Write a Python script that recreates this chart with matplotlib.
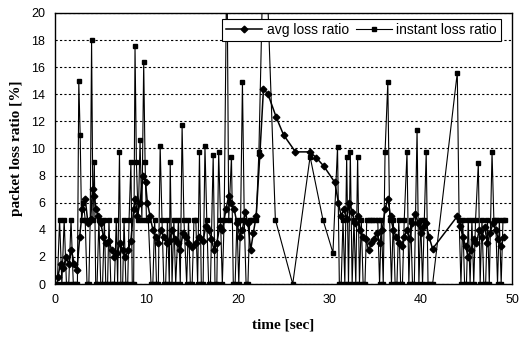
import numpy as np
import matplotlib
matplotlib.use("Agg")
import matplotlib.pyplot as plt

# instant loss ratio samples (time [s], value [%])
t_inst = [0.0, 0.25, 0.5, 0.75, 1.0, 1.25, 1.5, 1.75, 2.0, 2.2, 2.45, 2.6, 2.75, 2.9, 3.1, 3.3,
          3.5, 3.7, 3.85, 4.0, 4.15, 4.3, 4.45, 4.6, 4.8, 5.0, 5.2, 5.4, 5.55, 5.75, 5.9, 6.1,
          6.3, 6.5, 6.7, 6.85, 7.05, 7.2, 7.4, 7.55, 7.75, 7.95, 8.1, 8.3, 8.45, 8.6, 8.75, 8.9,
          9.1, 9.3, 9.5, 9.7, 9.85, 10.0, 10.2,
          10.5, 10.7, 10.9, 11.1, 11.3, 11.5, 11.7, 11.9, 12.1, 12.3, 12.5, 12.6, 12.8, 13.0, 13.2,
          13.5, 13.7, 13.9, 14.1, 14.4, 14.6, 14.8, 15.0, 15.2, 15.4, 15.6, 15.8, 16.0, 16.2, 16.4,
          16.6, 16.8, 17.0, 17.3, 17.5, 17.7, 17.9, 18.1, 18.3, 18.5,
          18.8, 19.0, 19.3, 19.5, 19.7, 19.9, 20.1, 20.3, 20.5, 20.7, 20.9, 21.1, 21.3, 21.6, 22.0, 22.3,
          22.9, 24.1, 26.0, 27.9, 29.3, 30.4, 30.9, 31.1, 31.3,
          31.5, 31.7, 31.9, 32.1, 32.3, 32.5, 32.7, 32.9, 33.1, 33.3, 33.5, 33.7, 33.9, 34.1, 34.4,
          34.7, 35.0, 35.3, 35.5, 35.7, 35.9, 36.1, 36.4, 36.6, 36.8,
          37.0, 37.2, 37.4, 37.6, 37.8, 38.0, 38.2, 38.5, 38.7, 38.9, 39.1, 39.3, 39.6, 39.8, 40.0,
          40.2, 40.4, 40.6, 40.8, 41.0, 41.3,
          44.0, 44.2, 44.4, 44.6, 44.8, 45.0, 45.2, 45.4, 45.6, 45.8, 46.0, 46.3, 46.5, 46.7, 46.9,
          47.1, 47.3, 47.5, 47.8, 48.0, 48.2, 48.4, 48.6, 48.8, 49.0, 49.2]
v_inst = [0, 0, 4.76, 0, 4.76, 0, 0, 4.76, 0, 0, 0, 15.0, 11.0, 4.76, 6.0, 4.76,
          0, 0, 4.76, 18.0, 4.76, 9.0, 0, 0, 4.76, 0, 0, 4.76, 0, 0, 4.76, 0,
          0, 0, 4.76, 0, 9.75, 0, 0, 4.76, 0, 0, 4.76, 9.0, 0, 0, 17.6, 9.0,
          4.76, 10.6, 4.76, 16.4, 9.0, 4.76, 4.76,
          0, 0, 4.76, 0, 0, 10.2, 4.76, 0, 0, 4.76, 0, 9.0, 0, 4.76, 0,
          4.76, 0, 11.7, 4.76, 0, 4.76, 0, 0, 4.76, 4.76, 0, 9.75, 0, 0, 10.2,
          4.76, 0, 0, 9.5, 0, 0, 9.75, 4.76, 0, 4.76,
          25.0, 4.76, 9.4, 0, 0, 4.76, 0, 4.76, 14.9, 4.76, 0, 0, 4.76, 4.76, 4.76, 9.75,
          28.0, 4.76, 0, 9.4, 4.76, 2.3, 10.1, 0, 0,
          4.76, 0, 9.4, 0, 9.75, 0, 4.76, 0, 9.4, 0, 4.76, 0, 0, 4.76, 4.76,
          4.76, 4.76, 4.76, 0, 4.76, 0, 9.75, 14.9, 4.76, 0,
          4.76, 0, 0, 4.76, 0, 0, 4.76, 9.75, 0, 4.76, 0, 0, 11.4, 0, 4.76,
          0, 4.76, 9.75, 0, 0, 0,
          15.6, 4.76, 0, 4.76, 0, 0, 4.76, 0, 4.76, 0, 4.76, 8.9, 0, 4.76, 0,
          0, 4.76, 0, 9.75, 4.76, 4.76, 0, 4.76, 0, 4.76, 4.76]

# average loss ratio samples
t_avg = [0.3, 0.6, 0.9, 1.2, 1.5, 1.8, 2.1, 2.4, 2.7, 3.0, 3.3,
         3.6, 3.9, 4.1, 4.3, 4.5, 4.7, 5.0, 5.3, 5.6, 5.9, 6.2, 6.5, 6.8, 7.1, 7.4, 7.7, 8.0, 8.3,
         8.6, 8.8, 9.0, 9.3, 9.6, 9.9, 10.1, 10.4,
         10.7, 11.0, 11.3, 11.6, 11.9, 12.2, 12.5, 12.8, 13.1,
         13.4, 13.7, 14.0, 14.3, 14.6, 15.0, 15.4, 15.8, 16.2, 16.5, 16.8, 17.1, 17.4, 17.7, 18.0, 18.3,
         18.7, 19.0, 19.3, 19.6, 19.9, 20.2, 20.5, 20.8, 21.1, 21.4, 21.7, 22.0,
         22.4, 22.8, 23.3, 24.2, 25.0, 26.3, 27.9, 28.6, 29.4, 30.6, 31.0,
         31.3, 31.6, 31.9, 32.2, 32.5, 32.8, 33.1, 33.4, 33.7, 34.0, 34.3, 34.6, 34.9, 35.2, 35.5,
         35.8, 36.1, 36.4, 36.7,
         37.0, 37.3, 37.6, 37.9, 38.2, 38.5, 38.8, 39.1, 39.4, 39.7, 40.0, 40.3, 40.6, 40.9, 41.3,
         44.0, 44.3, 44.6, 44.9, 45.2, 45.5, 45.8, 46.1, 46.4, 46.7, 47.0, 47.3, 47.6, 47.9, 48.2,
         48.5, 48.8, 49.1]
v_avg = [0.5, 1.5, 1.2, 2.0, 1.5, 2.5, 1.5, 1.0, 3.5, 5.5, 6.3,
         4.5, 4.8, 7.0, 6.5, 5.5, 5.0, 4.5, 3.5, 3.0, 3.2, 2.5, 2.0, 2.3, 3.0, 2.5, 2.0, 2.5, 3.2,
         5.5, 6.3, 5.0, 6.0, 8.0, 7.5, 6.0, 5.0,
         4.0, 3.5, 3.0, 4.0, 3.5, 3.0, 3.2, 4.0, 3.3,
         3.0, 2.5, 3.8, 3.5, 3.0, 2.7, 3.0, 3.5, 3.2, 4.3, 4.0, 3.3, 2.5, 3.0, 4.2, 4.0,
         5.5, 6.5, 6.0, 5.5, 4.5, 3.5, 4.0, 5.3, 4.5, 2.5, 3.8, 5.0,
         9.5, 14.4, 14.0, 12.3, 11.0, 9.75, 9.75, 9.3, 8.7, 7.5, 6.0,
         5.0, 5.5, 4.8, 6.0, 5.3, 4.5, 5.0, 4.0, 3.5, 3.3, 2.5, 3.0, 3.3, 3.8, 3.0,
         4.0, 5.5, 6.3, 5.0,
         4.0, 3.5, 3.0, 2.8, 3.5, 4.0, 3.3, 4.5, 5.2, 4.5, 3.8, 4.2, 4.5, 3.5, 2.6,
         5.0, 4.3, 3.5, 2.8, 2.0, 2.5, 3.3, 3.0, 4.0, 3.5, 4.2, 3.0, 3.8, 4.5, 4.0,
         3.3, 2.8, 3.5]

xticks = [0, 10, 20, 30, 40, 50]
yticks = [0, 2, 4, 6, 8, 10, 12, 14, 16, 18, 20]

fig = plt.figure(figsize=(5.21, 3.39), dpi=100)
ax = fig.add_axes([0.1056, 0.1622, 0.8774, 0.7995])

ax.plot(t_avg, v_avg, color='black', lw=1.1, marker='D', ms=3.4,
        label='avg loss ratio', zorder=3)
ax.plot(t_inst, v_inst, color='black', lw=0.8, marker='s', ms=3.2,
        label='instant loss ratio', zorder=2)

ax.set_xlim(0, 50)
ax.set_ylim(0, 20)
ax.set_xticks(xticks)
ax.set_yticks(yticks)
ax.tick_params(length=0, pad=7, labelsize=9)
for lab in ax.get_xticklabels() + ax.get_yticklabels():
    lab.set_family('Liberation Sans')
ax.yaxis.grid(True, color='black', linestyle=(0, (2, 2)), lw=0.8)
for s in ax.spines.values():
    s.set_color('black')
    s.set_linewidth(1.0)

ax.set_xlabel('time [sec]', family='Liberation Serif', fontweight='bold', fontsize=11, labelpad=9)
ax.set_ylabel('packet loss ratio [%]', family='Liberation Serif', fontweight='bold', fontsize=11, labelpad=6)

leg = ax.legend(loc='upper right', bbox_to_anchor=(0.975, 0.978), ncol=2,
                frameon=True, fancybox=False, edgecolor='black', framealpha=1,
                borderpad=0.3, handlelength=2.6, handletextpad=0.3, columnspacing=0.5,
                borderaxespad=0, prop={'family': 'Liberation Sans', 'size': 10})
leg.get_frame().set_linewidth(0.8)

fig.savefig('out.png', dpi=100)
